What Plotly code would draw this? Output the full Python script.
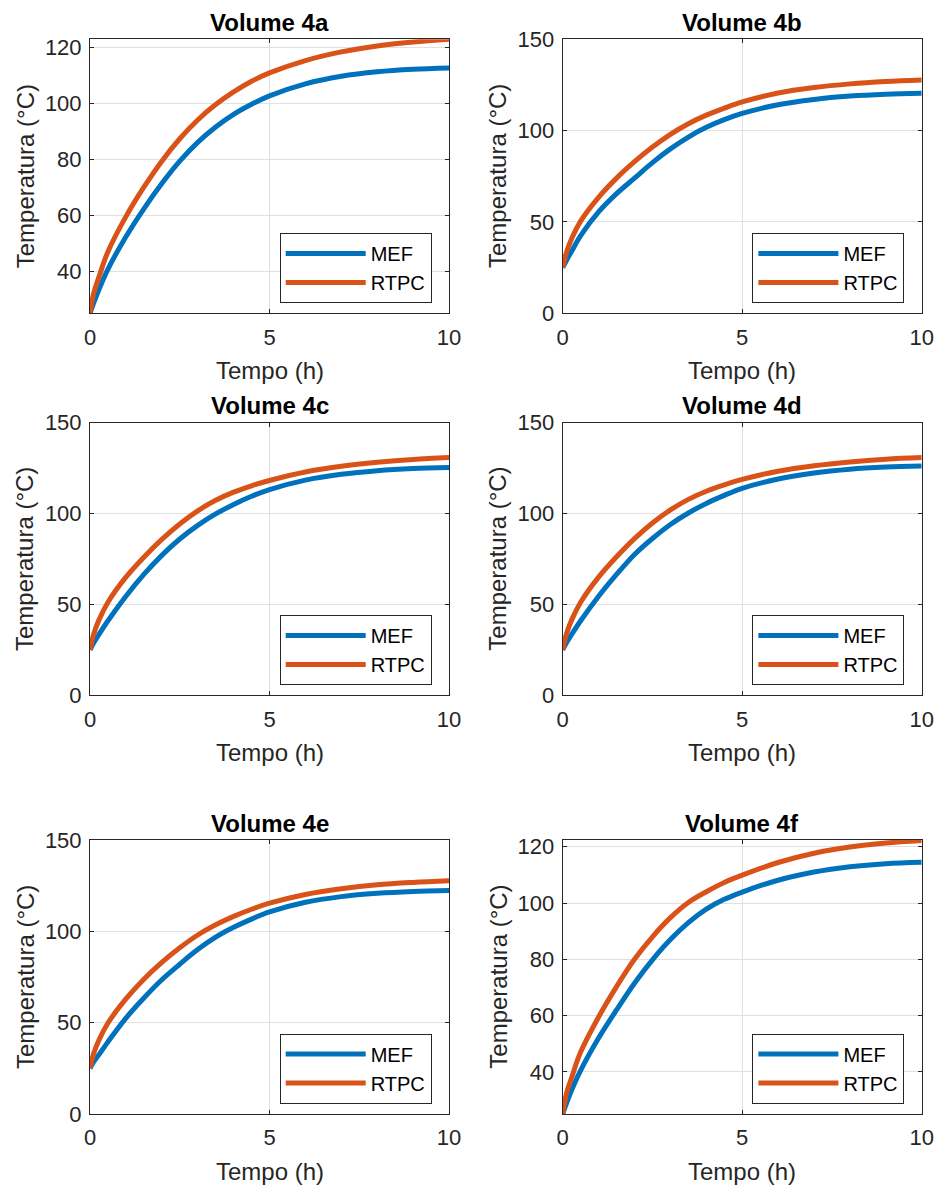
import plotly.graph_objects as go

# ---------------- data ----------------
tempo = [0, 0.1, 0.25, 0.5, 1, 1.5, 2, 2.5, 3, 3.5, 4, 4.5, 5, 6, 7, 8, 9, 10]

mef_4a = [25, 28.6, 33.5, 40.8, 52.3, 62.3, 71.3, 79.3, 86, 91.5, 96, 99.6, 102.6, 106.9, 109.6, 111.2, 112.1, 112.6]
rtpc_4a = [25, 32, 38, 47, 59.5, 70, 79.3, 87.3, 94, 99.5, 104, 107.8, 110.8, 115.2, 118.3, 120.4, 121.8, 122.8]

mef_4b = [25, 28.8, 34, 42.5, 55.5, 65.5, 74, 82.5, 90, 96.5, 101.8, 106, 109.4, 114.2, 117.1, 118.9, 119.9, 120.4]
rtpc_4b = [25, 33, 41, 50.5, 63.5, 74, 83, 91, 98, 103.8, 108.5, 112.3, 115.7, 120.6, 123.6, 125.6, 126.9, 127.7]

mef_4c = [25, 28.8, 33.5, 41, 54.5, 66.5, 77, 86, 93.5, 99.8, 105, 109.5, 113.2, 118.4, 121.6, 123.6, 124.8, 125.4]
rtpc_4c = [25, 33.5, 41.5, 51.2, 65, 76, 85.8, 94.3, 101.5, 107.3, 111.8, 115.3, 118.2, 122.9, 126, 128.2, 129.8, 130.8]

mef_4d = [25, 28.8, 33.5, 41, 54.5, 66.5, 77.5, 86.3, 94, 100.3, 105.6, 110, 113.9, 119, 122.3, 124.4, 125.6, 126.2]
rtpc_4d = [25, 33.5, 41.5, 51.2, 65, 76.2, 86.2, 94.8, 102, 107.8, 112.3, 115.8, 118.8, 123.3, 126.3, 128.4, 129.9, 130.8]

mef_4e = [25, 28.5, 32.5, 39.5, 52.5, 63.5, 73.5, 82, 90, 96.8, 102.2, 106.7, 110.6, 115.9, 119, 120.8, 121.8, 122.3]
rtpc_4e = [25, 33, 40.5, 49.8, 63, 73.8, 83, 91, 98, 103.6, 108.2, 112.1, 115.4, 120.2, 123.3, 125.5, 126.8, 127.7]

mef_4f = [25, 28.6, 33.5, 40.5, 52, 62, 71.5, 79.8, 87, 93, 97.8, 101.3, 103.9, 108.1, 111, 112.9, 114, 114.5]
rtpc_4f = [25, 32, 38, 47, 59.5, 70.3, 80, 88, 94.8, 100.2, 104, 107.3, 109.9, 114.4, 117.7, 119.9, 121.3, 122.2]

titles = ["Volume 4a", "Volume 4b", "Volume 4c", "Volume 4d", "Volume 4e", "Volume 4f"]
series_names = ["MEF", "RTPC"]
x_ticks = [0, 5, 10]
y_ticks_small = [40, 60, 80, 100, 120]
y_ticks_large = [0, 50, 100, 150]
x_label = "Tempo (h)"
y_label = "Temperatura (°C)"

panels = [
    (mef_4a, rtpc_4a, [25, 122.8], y_ticks_small),
    (mef_4b, rtpc_4b, [0, 150], y_ticks_large),
    (mef_4c, rtpc_4c, [0, 150], y_ticks_large),
    (mef_4d, rtpc_4d, [0, 150], y_ticks_large),
    (mef_4e, rtpc_4e, [0, 150], y_ticks_large),
    (mef_4f, rtpc_4f, [25, 122.4], y_ticks_small),
]

# ---------------- styling / layout ----------------
W, H = 938, 1185
FONT = "Liberation Sans, Arial, Helvetica, sans-serif"
COLORS = ["#0072BD", "#D95319"]
AX_COLOR = "#262626"
GRID = "#e0e0e0"

# panel edges in pixels
col_px = [(90, 449), (562.7, 921.7)]
row_px = [(39.3, 313.3), (422.7, 695.3), (840, 1114)]


def px_x(p):
    return p / W


def px_y(p):
    return 1 - p / H


fig = go.Figure()
annotations = []
layout = {}

for i, (mef, rtpc, yr, yt) in enumerate(panels):
    n = i + 1
    r, c = divmod(i, 2)
    x0, x1 = col_px[c]
    y0, y1 = row_px[r]
    xa = "xaxis" if n == 1 else f"xaxis{n}"
    ya = "yaxis" if n == 1 else f"yaxis{n}"
    xref = "x" if n == 1 else f"x{n}"
    yref = "y" if n == 1 else f"y{n}"
    lg = "legend" if n == 1 else f"legend{n}"

    for name, vals, col in zip(series_names, [mef, rtpc], COLORS):
        fig.add_trace(go.Scatter(
            x=tempo, y=vals, name=name, mode="lines",
            line=dict(color=col, width=5, shape="spline", smoothing=1.0),
            xaxis=xref, yaxis=yref, legend=lg, showlegend=True,
        ))

    common = dict(
        showline=True, linecolor=AX_COLOR, linewidth=1, mirror="ticks",
        ticks="inside", ticklen=4, tickcolor=AX_COLOR, tickwidth=1,
        showgrid=True, gridcolor=GRID, gridwidth=1, zeroline=False,
        tickfont=dict(family=FONT, size=22, color=AX_COLOR),
        fixedrange=True, automargin=False,
    )
    layout[xa] = dict(common, domain=[px_x(x0), px_x(x1)], anchor=yref,
                      range=[0, 10], tickvals=x_ticks, ticklabelstandoff=4)
    layout[ya] = dict(common, domain=[px_y(y1), px_y(y0)], anchor=xref,
                      range=yr, tickvals=yt, ticklabelstandoff=3)

    layout[lg] = dict(
        x=px_x(x1 - 17.3), y=px_y(y1 - 10.4), xanchor="right", yanchor="bottom",
        xref="paper", yref="paper",
        bgcolor="white", bordercolor=AX_COLOR, borderwidth=1,
        font=dict(family=FONT, size=20, color="black"),
        itemwidth=80, tracegroupgap=0,
    )

    # subplot title
    annotations.append(dict(
        text=f"<b>{titles[i]}</b>", x=px_x((x0 + x1) / 2), y=px_y(y0 - 17),
        xref="paper", yref="paper", xanchor="center", yanchor="middle",
        showarrow=False, font=dict(family=FONT, size=24, color="black"),
    ))
    # x axis title
    annotations.append(dict(
        text=x_label, x=px_x((x0 + x1) / 2), y=px_y(y1 + 57),
        xref="paper", yref="paper", xanchor="center", yanchor="middle",
        showarrow=False, font=dict(family=FONT, size=24, color=AX_COLOR),
    ))
    # y axis title
    annotations.append(dict(
        text=y_label, x=px_x(x0 - 65), y=px_y((y0 + y1) / 2),
        xref="paper", yref="paper", xanchor="center", yanchor="middle",
        textangle=-90, showarrow=False,
        font=dict(family=FONT, size=24, color=AX_COLOR),
    ))

fig.update_layout(
    width=W, height=H,
    margin=dict(l=0, r=0, t=0, b=0, autoexpand=False),
    paper_bgcolor="white", plot_bgcolor="white",
    font=dict(family=FONT, color=AX_COLOR),
    annotations=annotations,
    hovermode=False,
    **layout,
)

# remove the default page margin so the figure fills the window exactly
fig.write_html(
    "out.html",
    config={"displayModeBar": False, "staticPlot": True},
    post_script="document.body.style.margin='0';document.body.style.overflow='hidden';",
)
